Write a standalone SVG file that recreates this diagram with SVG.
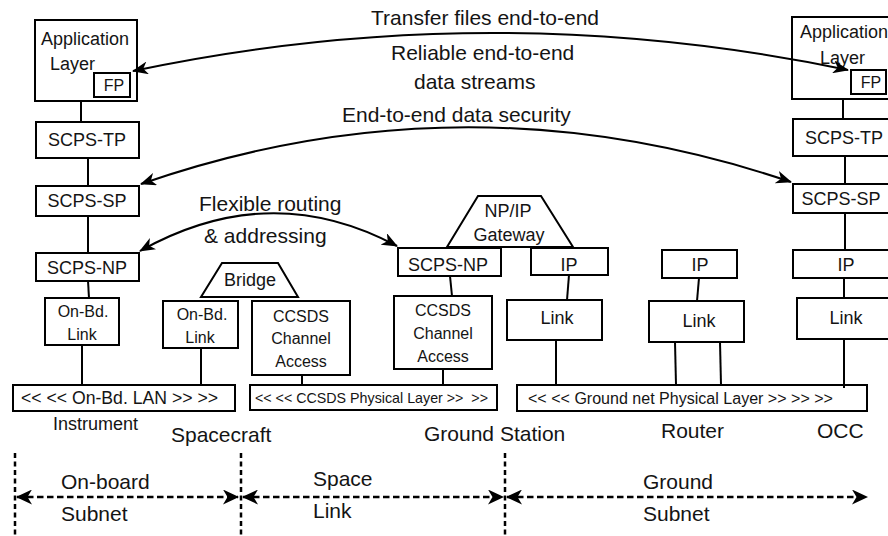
<svg xmlns="http://www.w3.org/2000/svg" width="888" height="536" viewBox="0 0 888 536">
<style>
text{font-family:"Liberation Sans",Arial,sans-serif;fill:#141414}
.box{fill:#fff;stroke:#000;stroke-width:2}
.t18{font-size:18px;text-anchor:middle}
.t16{font-size:16px;text-anchor:middle}
.lbl{font-size:21px}
.phy{font-size:15px;white-space:pre}
.ln{stroke:#000;stroke-width:2;fill:none}
.arc{stroke:#000;stroke-width:2;fill:none;marker-start:url(#ah);marker-end:url(#ah)}
.dh{stroke:#000;stroke-width:2.5;fill:none;stroke-dasharray:6.5 3.5;marker-start:url(#ah2);marker-end:url(#ah2)}
.dv{stroke:#000;stroke-width:2.5;fill:none;stroke-dasharray:5 3.5}
</style>
<defs>
<marker id="ah" viewBox="0 0 16 13" refX="15" refY="6.5" markerWidth="16" markerHeight="13" markerUnits="userSpaceOnUse" orient="auto-start-reverse">
<path d="M0,0 L16,6.5 L0,13 L4.5,6.5 Z" fill="#000"/>
</marker>
<marker id="ah2" viewBox="0 0 16 15" refX="15" refY="7.5" markerWidth="16" markerHeight="15" markerUnits="userSpaceOnUse" orient="auto-start-reverse">
<path d="M0,0 L16,7.5 L0,15 L4.5,7.5 Z" fill="#000"/>
</marker>
</defs>

<g id="labels">
<text class="lbl" x="371" y="25">Transfer files end-to-end</text>
<text class="lbl" x="391" y="60">Reliable end-to-end</text>
<text class="lbl" x="414" y="89">data streams</text>
<text class="lbl" x="342" y="122">End-to-end data security</text>
<text class="lbl" x="199" y="211">Flexible routing</text>
<text class="lbl" x="204" y="243">&amp; addressing</text>
<text x="53" y="430" style="font-size:18px">Instrument</text>
<text class="lbl" x="171" y="442">Spacecraft</text>
<text class="lbl" x="424" y="441">Ground Station</text>
<text class="lbl" x="661" y="438">Router</text>
<text class="lbl" x="817" y="438">OCC</text>
<text class="lbl" x="61" y="489">On-board</text>
<text class="lbl" x="61" y="521">Subnet</text>
<text class="lbl" x="313" y="486">Space</text>
<text class="lbl" x="313" y="518">Link</text>
<text class="lbl" x="643" y="489">Ground</text>
<text class="lbl" x="643" y="521">Subnet</text>
</g>

<g id="app-left">
<rect class="box" x="35" y="20" width="102" height="81"/>
<text x="41" y="45" style="font-size:18px">Application</text>
<text x="50" y="70" style="font-size:18px">Layer</text>
</g>
<g id="fp-left">
<rect class="box" x="94" y="73" width="36" height="24"/>
<text class="t16" x="114" y="91">FP</text>
</g>
<g id="scps-tp-left">
<rect class="box" x="36" y="122" width="103" height="36"/>
<text class="t18" x="87" y="146">SCPS-TP</text>
</g>
<g id="scps-sp-left">
<rect class="box" x="36" y="186" width="103" height="30"/>
<text class="t18" x="87" y="207">SCPS-SP</text>
</g>
<g id="scps-np-left">
<rect class="box" x="36" y="253" width="103" height="28"/>
<text class="t18" x="87" y="274">SCPS-NP</text>
</g>
<g id="onbd-link-instr">
<rect class="box" x="45" y="298" width="74" height="47"/>
<text class="t16" x="83" y="317">On-Bd.</text>
<text class="t16" x="82" y="340">Link</text>
</g>
<g id="onbd-lan">
<rect class="box" x="13" y="385" width="222" height="26"/>
<text x="21" y="404" style="font-size:18px" textLength="197" lengthAdjust="spacingAndGlyphs">&lt;&lt; &lt;&lt; On-Bd. LAN &gt;&gt; &gt;&gt;</text>
</g>

<g id="bridge">
<path class="box" d="M222,263 H278 L298,297 H201 Z"/>
<text class="t18" x="250" y="286">Bridge</text>
</g>
<g id="onbd-link-sc">
<rect class="box" x="163" y="301" width="75" height="47"/>
<text class="t16" x="202" y="320">On-Bd.</text>
<text class="t16" x="200" y="343">Link</text>
</g>
<g id="ccsds-access-sc">
<rect class="box" x="252" y="301" width="98" height="74"/>
<text class="t16" x="301" y="322">CCSDS</text>
<text class="t16" x="301" y="344">Channel</text>
<text class="t16" x="301" y="367">Access</text>
</g>
<g id="ccsds-phy">
<rect class="box" x="250" y="385" width="247" height="25"/>
<text class="phy" x="255" y="403" textLength="233" lengthAdjust="spacingAndGlyphs">&lt;&lt; &lt;&lt; CCSDS Physical Layer &gt;&gt;  &gt;&gt;</text>
</g>

<g id="gateway">
<path class="box" d="M478,196 H541 L573,247 H447 Z"/>
<text class="t18" x="508" y="217">NP/IP</text>
<text class="t18" x="509" y="241">Gateway</text>
</g>
<g id="scps-np-gs">
<rect class="box" x="398" y="248" width="103" height="28"/>
<text class="t18" x="448" y="271">SCPS-NP</text>
</g>
<g id="ip-gs">
<rect class="box" x="531" y="248" width="77" height="27"/>
<text class="t18" x="569" y="271">IP</text>
</g>
<g id="ccsds-access-gs">
<rect class="box" x="394" y="296" width="98" height="73"/>
<text class="t16" x="443" y="316">CCSDS</text>
<text class="t16" x="443" y="339">Channel</text>
<text class="t16" x="443" y="362">Access</text>
</g>
<g id="link-gs">
<rect class="box" x="507" y="300" width="95" height="40"/>
<text class="t18" x="557" y="324">Link</text>
</g>
<g id="ground-phy">
<rect class="box" x="517" y="385" width="350" height="26"/>
<text x="528" y="404" style="font-size:16px" textLength="305" lengthAdjust="spacingAndGlyphs">&lt;&lt; &lt;&lt; Ground net Physical Layer &gt;&gt; &gt;&gt; &gt;&gt;</text>
</g>

<g id="ip-router">
<rect class="box" x="662" y="250" width="75" height="28"/>
<text class="t18" x="700" y="271">IP</text>
</g>
<g id="link-router">
<rect class="box" x="649" y="301" width="95" height="41"/>
<text class="t18" x="699" y="327">Link</text>
</g>

<g id="app-right">
<rect class="box" x="792" y="17" width="100" height="82"/>
<text x="800" y="38" style="font-size:18px">Application</text>
<text x="820" y="64" style="font-size:18px">Layer</text>
</g>
<g id="fp-right">
<rect class="box" x="851" y="70" width="35" height="24"/>
<text class="t16" x="871" y="88">FP</text>
</g>
<g id="scps-tp-right">
<rect class="box" x="793" y="119" width="100" height="37"/>
<text class="t18" x="844" y="144">SCPS-TP</text>
</g>
<g id="scps-sp-right">
<rect class="box" x="793" y="184" width="100" height="29"/>
<text class="t18" x="841" y="205">SCPS-SP</text>
</g>
<g id="ip-right">
<rect class="box" x="793" y="250" width="100" height="28"/>
<text class="t18" x="846" y="271">IP</text>
</g>
<g id="link-right">
<rect class="box" x="797" y="298" width="96" height="41"/>
<text class="t18" x="846" y="324">Link</text>
</g>

<g id="connectors">
<line class="ln" x1="81" y1="101" x2="81" y2="122"/>
<line class="ln" x1="88" y1="158" x2="88" y2="186"/>
<line class="ln" x1="88" y1="216" x2="88" y2="253"/>
<line class="ln" x1="88" y1="281" x2="89" y2="298"/>
<line class="ln" x1="82" y1="345" x2="82" y2="385"/>
<line class="ln" x1="201" y1="348" x2="201" y2="385"/>
<line class="ln" x1="302" y1="375" x2="302" y2="385"/>
<line class="ln" x1="450" y1="276" x2="452" y2="296"/>
<line class="ln" x1="443" y1="369" x2="443" y2="385"/>
<line class="ln" x1="569" y1="275" x2="567" y2="300"/>
<line class="ln" x1="556" y1="340" x2="556" y2="385"/>
<line class="ln" x1="699" y1="278" x2="697" y2="301"/>
<line class="ln" x1="675" y1="342" x2="676" y2="385"/>
<line class="ln" x1="720" y1="342" x2="721" y2="385"/>
<line class="ln" x1="843" y1="99" x2="843" y2="119"/>
<line class="ln" x1="845" y1="156" x2="845" y2="184"/>
<line class="ln" x1="845" y1="213" x2="845" y2="250"/>
<line class="ln" x1="844" y1="278" x2="844" y2="298"/>
<line class="ln" x1="844" y1="339" x2="844" y2="388"/>
<path class="arc" d="M133,71 Q490,-4.5 848,70"/>
<path class="arc" d="M141,184 Q465,71.5 791,182"/>
<path class="arc" d="M140,251 Q270,178 397,246"/>
<line class="dv" x1="15" y1="453" x2="15" y2="536"/>
<line class="dv" x1="241" y1="453" x2="241" y2="536"/>
<line class="dv" x1="505" y1="453" x2="505" y2="536"/>
<path class="dh" d="M17,497 H238"/>
<path class="dh" d="M243,497 H503"/>
<path class="dh" d="M507,497 H867"/>
</g>
</svg>
